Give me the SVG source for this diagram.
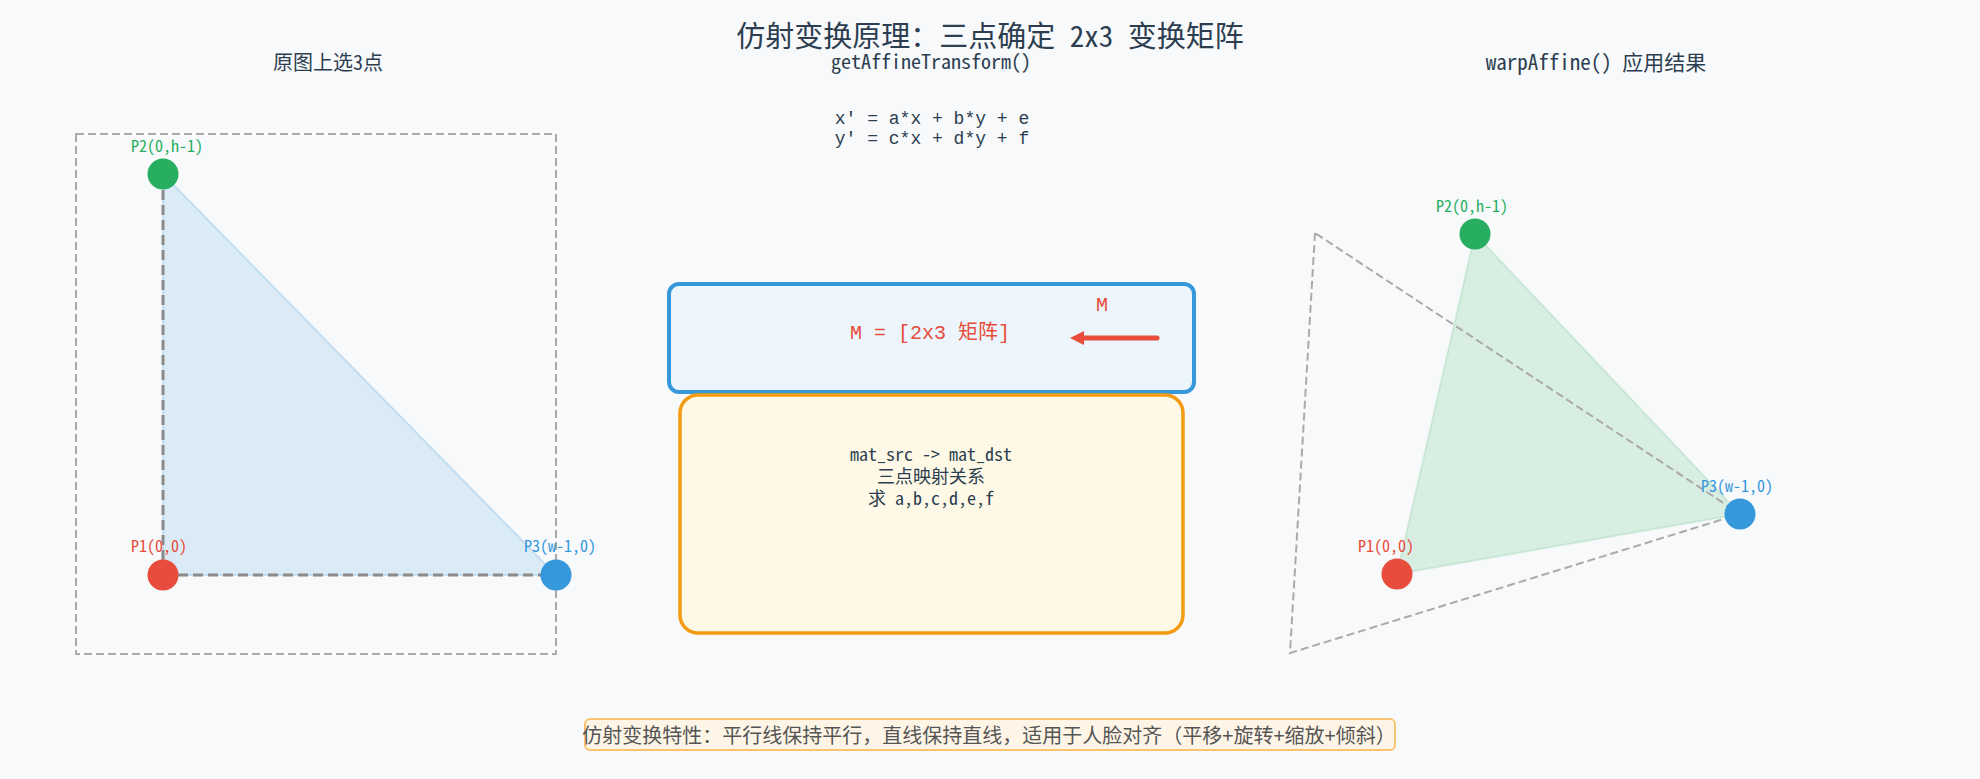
<svg xmlns="http://www.w3.org/2000/svg" width="1980" height="779" viewBox="0 0 1980 779">
<style>
.mono{font-family:"Liberation Mono","Noto Sans CJK SC",monospace;fill:#2c3e50}
.cjkm{font-family:"Noto Sans Mono CJK SC","Noto Sans CJK SC",monospace;fill:#2c3e50}
.sans{font-family:"Noto Sans CJK SC","Liberation Sans",sans-serif}
.lbl{font-family:"Noto Sans Mono CJK SC","Noto Sans CJK SC",monospace;font-size:16px}
.red{fill:#e74c3c}.green{fill:#27ae60}.blue{fill:#3498db}
.frame{fill:none;stroke:#aaaaaa;stroke-width:2;stroke-dasharray:8 4}
.edge{fill:none;stroke:#8a8a8a;stroke-width:3;stroke-dasharray:10 5}
.mid{text-anchor:middle}
</style>
<defs>
<marker id="ah" markerUnits="userSpaceOnUse" markerWidth="16" markerHeight="16" refX="0" refY="7" orient="auto">
<path d="M0,0 L14,7 L0,14 Z" fill="#e74c3c"/>
</marker>
</defs>
<rect width="1980" height="779" fill="#f8f9fb"/>
<text class="cjkm mid" x="990" y="47" font-size="29">仿射变换原理：三点确定 2x3 变换矩阵</text>

<g id="panel-src">
<text class="cjkm mid" x="328" y="70" font-size="20">原图上选3点</text>
<rect class="frame" x="76" y="134" width="480" height="520"/>
<polygon points="163,575 163,174 556,575" fill="#3498db" fill-opacity="0.15" stroke="#3498db" stroke-opacity="0.2" stroke-width="2"/>
<line class="edge" x1="163" y1="575" x2="163" y2="174"/>
<line class="edge" x1="163" y1="575" x2="556" y2="575"/>
</g>
<g id="src-p1"><circle cx="163" cy="575" r="15.5" class="red"/><text class="lbl red" x="131" y="552">P1(0,0)</text></g>
<g id="src-p2"><circle cx="163" cy="174" r="15.5" class="green"/><text class="lbl green" x="131" y="152">P2(0,h-1)</text></g>
<g id="src-p3"><circle cx="556" cy="575" r="15.5" class="blue"/><text class="lbl blue" x="524" y="552">P3(w-1,0)</text></g>

<g id="matrix">
<text class="cjkm mid" x="931" y="69" font-size="20">getAffineTransform()</text>
<text class="mono mid" x="932" y="123.5" font-size="18">x' = a*x + b*y + e</text>
<text class="mono mid" x="932" y="143.5" font-size="18">y' = c*x + d*y + f</text>
</g>
<g id="matrix-box">
<rect x="669" y="284" width="525" height="108" rx="10" fill="#ebf5fb" stroke="#3498db" stroke-width="4"/>
<text class="mono mid" x="930" y="339" font-size="20" style="fill:#e74c3c">M = [2x3 矩阵]</text>
</g>
<g id="mapping-box">
<rect x="680" y="395" width="503" height="238" rx="18" fill="#fef9e7" stroke="#f39c12" stroke-width="3.5"/>
<text class="cjkm mid" x="931" y="461" font-size="18">mat_src -&gt; mat_dst</text>
<text class="cjkm mid" x="931" y="483" font-size="18">三点映射关系</text>
<text class="cjkm mid" x="931" y="505" font-size="18">求 a,b,c,d,e,f</text>
</g>

<g id="connectors">
<line x1="1157" y1="338" x2="1084" y2="338" stroke="#e74c3c" stroke-width="5" stroke-linecap="round" marker-end="url(#ah)"/>
<text class="mono mid" x="1102" y="311" font-size="20" style="fill:#e74c3c">M</text>
</g>

<g id="panel-dst">
<text class="cjkm mid" x="1596" y="70" font-size="21">warpAffine() 应用结果</text>
<polygon points="1397,574 1475,234 1740,514" fill="#27ae60" fill-opacity="0.15" stroke="#27ae60" stroke-opacity="0.15" stroke-width="2"/>
<polygon class="frame" points="1315,233 1290,653 1740,514"/>
</g>
<g id="dst-p1"><circle cx="1397" cy="574" r="15.5" class="red"/><text class="lbl red" x="1358" y="552">P1(0,0)</text></g>
<g id="dst-p2"><circle cx="1475" cy="234" r="15.5" class="green"/><text class="lbl green" x="1436" y="212">P2(0,h-1)</text></g>
<g id="dst-p3"><circle cx="1740" cy="514" r="15.5" class="blue"/><text class="lbl blue" x="1701" y="492">P3(w-1,0)</text></g>

<g id="note">
<rect x="585" y="719" width="810" height="31" rx="5" fill="#fef5e7" stroke="#f8c471" stroke-width="2"/>
<text class="sans mid" x="989" y="743" font-size="20" fill="#555555">仿射变换特性：平行线保持平行，直线保持直线，适用于人脸对齐（平移+旋转+缩放+倾斜）</text>
</g>
</svg>
